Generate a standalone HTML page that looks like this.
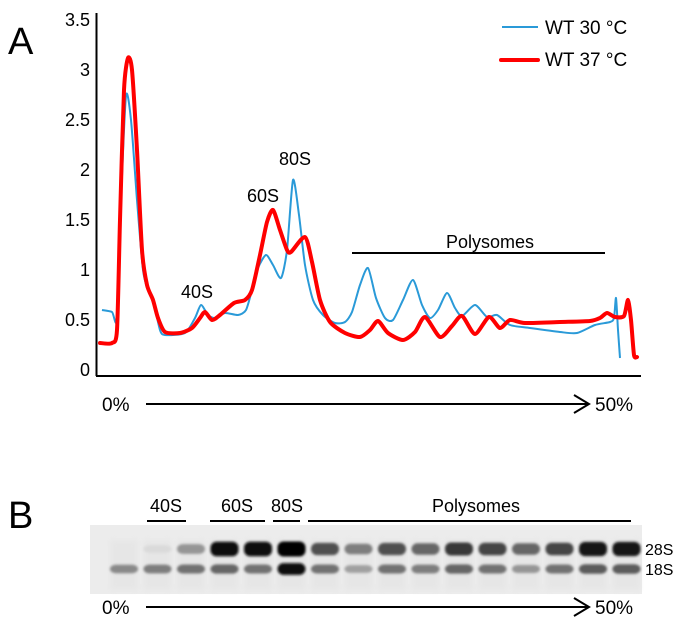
<!DOCTYPE html>
<html><head><meta charset="utf-8"><style>
html,body{margin:0;padding:0;background:#fff;}
svg{display:block;font-family:"Liberation Sans",Arial,sans-serif;}
</style></head><body>
<svg id="fig" width="684" height="632" viewBox="0 0 684 632">
<defs>
<filter id="blur" x="-30%" y="-100%" width="160%" height="300%"><feGaussianBlur stdDeviation="1.4"/></filter>
<filter id="blur2"><feGaussianBlur stdDeviation="3"/></filter>
</defs>
<text x="8" y="54" font-size="38">A</text>
<g id="yticks"></g>
<line x1="96.5" y1="13" x2="96.5" y2="376" stroke="#000" stroke-width="2"/>
<line x1="96" y1="376" x2="641" y2="376" stroke="#000" stroke-width="2"/>
<g id="series"></g>
<g>
<line x1="502" y1="27" x2="538" y2="27" stroke="#2a9ad8" stroke-width="2"/>
<text x="545" y="34" font-size="19">WT 30 °C</text>
<line x1="501" y1="60" x2="538" y2="60" stroke="#f00" stroke-width="4" stroke-linecap="round"/>
<text x="545" y="66" font-size="19">WT 37 °C</text>
</g>
<text x="181" y="298" font-size="18">40S</text>
<text x="247" y="202" font-size="18">60S</text>
<text x="279" y="165" font-size="18">80S</text>
<text x="490" y="248" font-size="18" text-anchor="middle">Polysomes</text>
<line x1="352" y1="253" x2="605" y2="253" stroke="#000" stroke-width="2"/>
<g>
<text x="102" y="411" font-size="19">0%</text>
<line x1="146" y1="404" x2="588" y2="404" stroke="#000" stroke-width="2"/>
<polyline points="574,395 589,404 574,413" fill="none" stroke="#000" stroke-width="2"/>
<text x="595" y="411" font-size="19">50%</text>
</g>
<text x="8" y="528" font-size="38">B</text>
<g>
<text x="166" y="512" font-size="18" text-anchor="middle">40S</text>
<line x1="147" y1="521" x2="186" y2="521" stroke="#000" stroke-width="2"/>
<text x="237" y="512" font-size="18" text-anchor="middle">60S</text>
<line x1="210" y1="521" x2="265" y2="521" stroke="#000" stroke-width="2"/>
<text x="287" y="512" font-size="18" text-anchor="middle">80S</text>
<line x1="273" y1="521" x2="300" y2="521" stroke="#000" stroke-width="2"/>
<text x="476" y="512" font-size="18" text-anchor="middle">Polysomes</text>
<line x1="308" y1="521" x2="631" y2="521" stroke="#000" stroke-width="2"/>
</g>
<rect x="90" y="525" width="552" height="69" fill="#ececec"/>
<g id="gel"></g>
<text x="645" y="555" font-size="16">28S</text>
<text x="645" y="575" font-size="16">18S</text>
<g>
<text x="102" y="614" font-size="19">0%</text>
<line x1="146" y1="607" x2="588" y2="607" stroke="#000" stroke-width="2"/>
<polyline points="574,598 589,607 574,616" fill="none" stroke="#000" stroke-width="2"/>
<text x="595" y="614" font-size="19">50%</text>
</g>
</svg>
<script>
const yTicks=[0,0.5,1,1.5,2,2.5,3,3.5];
const yTickLabels=["0","0.5","1","1.5","2","2.5","3","3.5"];
const wt30X=[0.2,1.2,1.7,2.1,2.6,3.1,3.7,4.3,4.8,5.3,6.0,6.5,8.5,9.5,10.1,10.8,11.5,12.5,13.8,14.6,15.2,15.8,16.6,17.3,18.1,18.7,19.3,19.9,20.5,21.3,22.3,23.5,24.5,25.2,26.0,26.8,27.6,28.5,29.3,30.3,31.3,32.2,33.0,33.8,34.7,35.5,36.2,37.5,38.7,39.7,41.0,43.0,46.0,47.7,49.5,51.0,51.4,51.6,51.8,52.0];
const wt30Y=[0.6,0.58,0.52,1.7,2.74,2.5,1.7,1.0,0.8,0.7,0.4,0.35,0.37,0.52,0.65,0.55,0.52,0.57,0.55,0.6,0.8,1.02,1.15,1.05,0.92,1.2,1.9,1.55,1.05,0.7,0.55,0.47,0.48,0.58,0.85,1.02,0.72,0.52,0.5,0.7,0.9,0.65,0.52,0.6,0.77,0.62,0.54,0.65,0.53,0.55,0.45,0.42,0.38,0.37,0.45,0.48,0.52,0.72,0.4,0.12];
const wt37X=[0,1.2,1.7,2.0,2.4,2.8,3.2,3.7,4.2,4.7,5.3,5.8,6.5,8.0,9.2,10.0,10.5,11.2,12.0,13.4,14.5,15.2,16.0,16.7,17.3,18.0,18.7,19.1,20.5,21.2,22.0,23.0,24.5,26.0,27.0,27.8,28.8,30.3,31.5,32.5,34.0,35.2,36.2,37.5,38.9,40.0,41.0,42.5,46.0,49.0,50.0,50.7,51.5,52.4,52.8,53.1,53.4,53.7];
const wt37Y=[0.27,0.27,0.4,1.5,2.8,3.12,3.0,2.2,1.2,0.85,0.7,0.52,0.38,0.37,0.42,0.52,0.58,0.5,0.55,0.67,0.7,0.8,1.15,1.48,1.6,1.4,1.2,1.18,1.33,1.08,0.7,0.48,0.37,0.33,0.4,0.49,0.37,0.3,0.38,0.53,0.33,0.44,0.54,0.36,0.53,0.42,0.5,0.47,0.48,0.49,0.52,0.57,0.53,0.54,0.7,0.5,0.15,0.13];
const band28S=[0,0.05,0.35,0.95,0.95,1.0,0.65,0.45,0.65,0.55,0.75,0.7,0.55,0.7,0.9,0.9];
const band18S=[0.4,0.45,0.5,0.55,0.5,0.95,0.5,0.3,0.5,0.45,0.55,0.5,0.35,0.5,0.6,0.6];

const NS="http://www.w3.org/2000/svg";
const xs=v=>100+v*10;
const ys=v=>370-v*100;
const laneX=i=>124+i*33.5;
function mk(t,a,p){const e=document.createElementNS(NS,t);for(const k in a)e.setAttribute(k,a[k]);p.appendChild(e);return e;}

const yt=document.getElementById('yticks');
yTicks.forEach((t,i)=>{
  const e=mk('text',{x:90,y:ys(t)+6,'font-size':18,'text-anchor':'end'},yt);
  
  
  e.textContent=yTickLabels[i];
});

function smooth(X,Y){
  const p=X.map((x,i)=>[xs(x),ys(Y[i])]);
  let d='M'+p[0][0]+','+p[0][1];
  for(let i=0;i<p.length-1;i++){
    const p0=p[Math.max(0,i-1)],p1=p[i],p2=p[i+1],p3=p[Math.min(p.length-1,i+2)];
    const t=0.12;
    d+=' C'+(p1[0]+(p2[0]-p0[0])*t)+','+(p1[1]+(p2[1]-p0[1])*t)+' '+(p2[0]-(p3[0]-p1[0])*t)+','+(p2[1]-(p3[1]-p1[1])*t)+' '+p2[0]+','+p2[1];
  }
  return d;
}
const sg=document.getElementById('series');
const l1=mk('path',{d:smooth(wt30X,wt30Y),fill:'none',stroke:'#2a9ad8','stroke-width':2,'stroke-linejoin':'round'},sg);


const l2=mk('path',{d:smooth(wt37X,wt37Y),fill:'none',stroke:'#f00','stroke-width':4,'stroke-linejoin':'round','stroke-linecap':'round'},sg);



const gel=document.getElementById('gel');
band28S.forEach((v,i)=>{
  const lane=mk('rect',{x:laneX(i)-14,y:540,width:28,height:50,fill:'#dedede',opacity:0.4,filter:'url(#blur2)'},gel);
  
  
});
function band(v,y,h,name,i){
  if(v<=0.02)return;
  const g=Math.round(230-232*v);
  const e=mk('rect',{x:laneX(i)-14,y:y-h/2,width:28,height:h,rx:6,fill:`rgb(${Math.max(0,g)},${Math.max(0,g)},${Math.max(0,g)})`,filter:'url(#blur)'},gel);
  
  
}
band28S.forEach((v,i)=>band(v,549,7+8*v,'band-28s',i));
band18S.forEach((v,i)=>band(v,569,6+6*v,'band-18s',i));
</script>
</body></html>
